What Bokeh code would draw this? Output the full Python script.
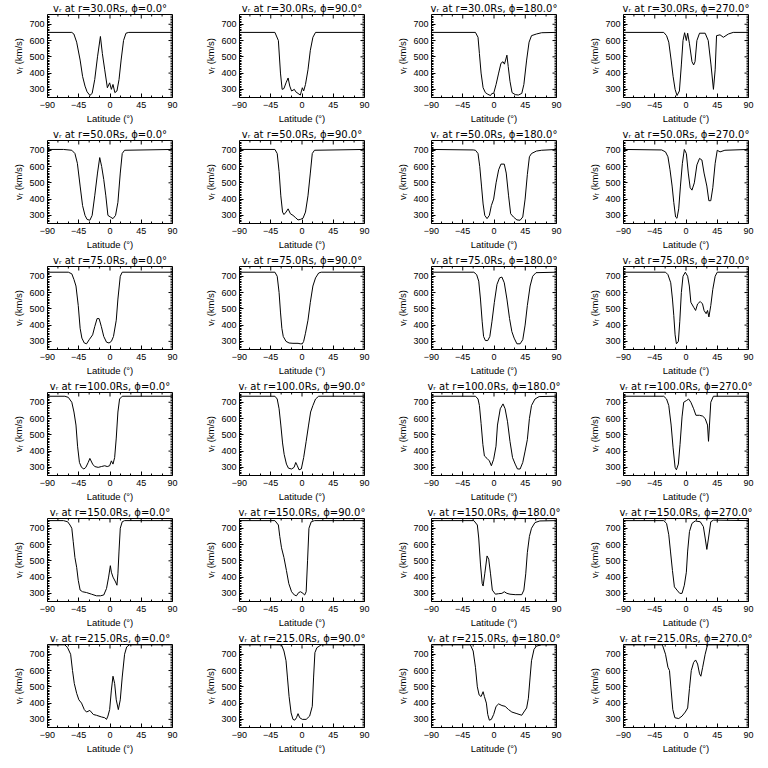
import math
from bokeh.plotting import figure
from bokeh.layouts import gridplot
from bokeh.models import Range1d, FixedTicker
from bokeh.embed import file_html
from bokeh.resources import INLINE

RADII = [30.0, 50.0, 75.0, 100.0, 150.0, 215.0]
PHIS = [0.0, 90.0, 180.0, 270.0]
X_TICKS = [-90, -45, 0, 45, 90]
Y_TICKS = [300, 400, 500, 600, 700]
X_MINOR = [-75, -60, -30, -15, 15, 30, 60, 75]
Y_MINOR = [v for v in range(260, 760, 10) if v % 100 != 0]
X_MIN, X_MAX = -90, 90
Y_MIN, Y_MAX = 250, 760

# ---- r = 30 Rs ----
LAT_R30_P0 = [-90, -55, -52, -48, -43, -39.5, -36, -33, -29, -25.7, -22, -18, -13.8, -11, -7.6, -3.8, -0.5, 2, 4.3, 7, 10, 13, 16, 19.5, 23, 27, 90]
VR_R30_P0 = [650, 650, 640, 590, 480, 380, 320, 285, 263, 275, 360, 500, 625, 520, 420, 310, 340, 300, 330, 280, 290, 360, 480, 600, 645, 650, 650]
LAT_R30_P90 = [-90, -39, -34, -31, -28.6, -26, -23, -20, -17.6, -15, -11, -9, -5.7, -2.4, 0.5, 2.4, 5, 8.6, 12, 15.7, 19.5, 90]
VR_R30_P90 = [650, 650, 600, 400, 300, 305, 340, 370, 320, 290, 300, 285, 275, 265, 310, 290, 330, 420, 540, 620, 650, 650]
LAT_R30_P180 = [-90, -26.7, -23, -21, -18.6, -15.7, -12.4, -9, -5, -3, -0.5, 3, 6.7, 10, 13, 15, 16.7, 18.6, 20.5, 23, 26, 30.5, 35, 40, 43, 47, 50.5, 54, 61, 68.6, 90]
VR_R30_P180 = [650, 650, 620, 520, 400, 310, 280, 270, 262, 275, 275, 330, 400, 460, 470, 455, 480, 510, 440, 350, 280, 268, 265, 275, 330, 480, 590, 630, 640, 648, 650]
LAT_R30_P270 = [-90, -32, -28, -24.8, -21.4, -18.6, -15.7, -12.9, -9.5, -6.7, -4.3, -2, 0.5, 2.4, 5, 8.6, 11, 13, 15.7, 19.5, 27.6, 32, 36, 39.5, 42, 44, 49, 53.8, 61, 68, 90]
VR_R30_P270 = [650, 650, 630, 590, 480, 380, 300, 262, 290, 450, 600, 648, 600, 645, 580, 470, 450, 470, 600, 645, 645, 600, 450, 300, 420, 630, 635, 620, 640, 650, 650]

# ---- r = 50 Rs ----
LAT_R50_P0 = [-90, -67, -55, -50.5, -47, -43, -39.5, -36, -33, -29, -25.7, -22, -18, -14.8, -12, -9, -6, -3, 0.5, 4.3, 8, 11.4, 14.8, 17.6, 21, 90]
VR_R50_P0 = [705, 705, 700, 680, 620, 480, 360, 300, 275, 270, 300, 420, 560, 655, 600, 520, 420, 300, 290, 280, 300, 380, 560, 680, 700, 705]
LAT_R50_P90 = [-90, -39, -35.7, -33, -30.5, -28, -26, -23, -20, -16.7, -13, -9, -5.7, -2.4, 1.4, 5, 8.6, 12, 14.8, 18, 90]
VR_R50_P90 = [705, 705, 680, 570, 420, 320, 305, 320, 340, 310, 300, 285, 272, 275, 282, 320, 420, 560, 680, 700, 705]
LAT_R50_P180 = [-90, -30, -26.7, -23, -20.5, -18, -15.7, -13.3, -10, -6.7, -3.8, -0.5, 3, 6.7, 10, 14.8, 17.6, 21, 24, 28, 33, 37.6, 41.4, 44.8, 48, 51, 54, 61, 68.6, 90]
VR_R50_P180 = [705, 702, 700, 680, 600, 480, 370, 300, 280, 300, 360, 400, 500, 580, 615, 615, 560, 420, 310, 290, 272, 270, 290, 400, 550, 660, 680, 695, 700, 705]
LAT_R50_P270 = [-90, -35, -29.5, -26, -23, -20, -17.6, -15, -13, -10.5, -8, -5.2, -2.4, 0.5, 3.3, 6, 8.6, 12, 15.7, 19.5, 22.9, 26, 30, 32.9, 35.7, 38.6, 42, 45, 49, 56, 90]
VR_R50_P270 = [705, 702, 690, 660, 580, 480, 380, 290, 282, 340, 480, 620, 705, 680, 560, 470, 455, 500, 610, 650, 640, 560, 480, 390, 390, 470, 620, 700, 690, 700, 705]

# ---- r = 75 Rs ----
LAT_R75_P0 = [-90, -60, -55, -51.9, -49, -45.7, -43, -40.5, -37, -33.8, -30, -25, -22, -18.6, -15.7, -12.4, -9, -5, -1.4, 2, 5, 9, 11.4, 14.8, 17.6, 90]
VR_R75_P0 = [725, 725, 715, 680, 640, 520, 380, 320, 290, 285, 310, 340, 390, 440, 440, 390, 330, 295, 290, 300, 330, 430, 560, 700, 725, 725]
LAT_R75_P90 = [-90, -39, -35.7, -33, -31, -29, -27, -23, -18.6, -13, -5.7, -2.4, 0.5, 2.4, 5, 8.6, 12, 15.7, 19.5, 24, 27.6, 90]
VR_R75_P90 = [725, 725, 700, 600, 480, 380, 330, 300, 290, 288, 288, 285, 285, 300, 350, 430, 540, 640, 690, 720, 725, 725]
LAT_R75_P180 = [-90, -29, -25, -22, -19.5, -17, -15, -12.4, -9, -6, -3, 0.5, 4.3, 8, 11.4, 14.8, 18.6, 22.4, 25.7, 29, 33, 37.6, 41.4, 44.8, 48, 52, 55.7, 60.5, 90]
VR_R75_P180 = [725, 725, 710, 670, 560, 420, 330, 305, 305, 330, 420, 540, 650, 690, 695, 660, 560, 440, 360, 320, 285, 285, 310, 400, 520, 640, 700, 722, 725]
LAT_R75_P270 = [-90, -29.5, -26, -22, -19.5, -17.6, -15.7, -13.8, -11, -9, -6.7, -4.3, -1, 2.4, 4.8, 7, 11, 13.8, 16.7, 20.5, 23.8, 26, 29, 31, 33, 35.7, 38.6, 42, 45, 90]
VR_R75_P270 = [725, 725, 710, 660, 560, 460, 340, 285, 300, 420, 600, 700, 725, 700, 640, 540, 510, 490, 530, 545, 530, 490, 470, 490, 450, 520, 620, 700, 725, 725]

# ---- r = 100 Rs ----
LAT_R100_P0 = [-90, -65, -60, -55, -51.9, -49, -46.7, -44, -41, -37.6, -34.8, -31.4, -29, -25, -22, -17, -12.4, -7.6, -4, -0.5, 2, 4.3, 6.7, 9, 11.4, 13.8, 17.6, 90]
VR_R100_P0 = [737, 737, 730, 700, 640, 560, 430, 330, 300, 290, 300, 330, 355, 320, 305, 300, 305, 310, 305, 310, 340, 320, 360, 480, 640, 720, 737, 737]
LAT_R100_P90 = [-90, -39, -35.7, -33, -30.5, -28, -25.7, -22.4, -19.5, -15, -11.4, -9, -6.7, -4.3, -1, 2.4, 6, 9.5, 12.4, 15.7, 19.5, 24, 90]
VR_R100_P90 = [737, 737, 720, 660, 560, 450, 380, 320, 295, 290, 300, 330, 310, 285, 290, 360, 460, 560, 640, 680, 720, 737, 737]
LAT_R100_P180 = [-90, -26.7, -23, -21, -18.6, -16, -13.8, -10, -6.7, -3.8, -0.5, 2.9, 5, 9, 13, 16, 19.5, 23, 26.7, 30.5, 33.8, 37.6, 41.4, 44.8, 48, 51, 54, 59, 65, 90]
VR_R100_P180 = [737, 737, 720, 680, 570, 440, 370, 355, 340, 310, 350, 430, 560, 660, 690, 660, 580, 460, 360, 320, 290, 290, 330, 400, 470, 600, 680, 720, 735, 737]
LAT_R100_P270 = [-90, -32, -28, -24.8, -21.4, -18.6, -15.7, -13.8, -11, -8.6, -5.7, -3.3, 0.5, 3.8, 7, 11, 14.3, 19.5, 24, 27.6, 31, 32.4, 33.8, 35.7, 39.5, 90]
VR_R100_P270 = [737, 737, 720, 680, 560, 420, 300, 285, 320, 440, 610, 700, 710, 720, 700, 660, 620, 620, 615, 600, 560, 460, 560, 700, 737, 737]

# ---- r = 150 Rs ----
LAT_R150_P0 = [-90, -67, -61, -57.6, -55, -53, -50.5, -48, -45.7, -43, -39.5, -33.8, -26.7, -19.5, -13.8, -9, -5, -2, 0.5, 2, 4.3, 8, 10, 11.4, 13, 14.8, 17.6, 21, 90]
VR_R150_P0 = [747, 747, 740, 720, 700, 620, 520, 460, 380, 320, 310, 305, 295, 285, 285, 290, 330, 400, 470, 430, 400, 370, 350, 420, 560, 700, 740, 747, 747]
LAT_R150_P90 = [-90, -39, -34, -32, -29.5, -26, -22.4, -19, -15, -11, -8, -4.8, -2, 1.4, 3.8, 6, 8, 10, 13.3, 18, 90]
VR_R150_P90 = [747, 747, 720, 650, 580, 520, 440, 360, 310, 290, 285, 305, 310, 300, 290, 310, 500, 700, 740, 747, 747]
LAT_R150_P180 = [-90, -29, -24, -22, -19.5, -17, -15.7, -13.3, -10, -7.6, -5, -2.4, 2, 6.7, 11.4, 14.8, 18.6, 23, 30.5, 40, 43, 45.7, 48, 51, 54, 59, 66, 90]
VR_R150_P180 = [747, 747, 720, 640, 480, 360, 345, 420, 530, 510, 420, 320, 295, 298, 300, 310, 300, 295, 292, 292, 320, 420, 550, 650, 700, 735, 745, 747]
LAT_R150_P270 = [-90, -32, -28, -24.8, -22.4, -19.5, -16.7, -13, -9, -5.7, -2.4, 0.5, 2.4, 5, 8.6, 13.3, 20.5, 25, 27.6, 30, 32.4, 35.7, 39.5, 90]
VR_R150_P270 = [747, 747, 730, 660, 560, 440, 340, 320, 300, 300, 350, 430, 560, 680, 730, 745, 740, 710, 640, 570, 640, 740, 750, 747]

# ---- r = 215 Rs ----
LAT_R215_P0 = [-90, -65, -61, -56.7, -54, -51.4, -48, -44.8, -41, -37, -33.8, -29, -24, -19.5, -12.4, -7.6, -5, -3, -0.5, 2, 4.3, 6.7, 9, 12, 14.8, 17.6, 21, 24, 28, 90]
VR_R215_P0 = [758, 758, 740, 700, 600, 520, 460, 420, 400, 360, 345, 355, 330, 325, 315, 310, 300, 320, 360, 480, 565, 520, 420, 360, 420, 560, 700, 745, 758, 758]
LAT_R215_P90 = [-90, -29.5, -26, -23, -21, -18.6, -15.7, -13, -10.5, -8, -5.7, -3.3, 0.5, 6, 11, 14.8, 16.7, 18.6, 21.4, 27.6, 90]
VR_R215_P90 = [758, 758, 720, 660, 560, 440, 340, 300, 295, 310, 335, 310, 300, 300, 320, 380, 560, 710, 740, 758, 758]
LAT_R215_P180 = [-90, -34, -30, -26.7, -24, -21.4, -18.6, -15.7, -13.8, -11, -9, -6.7, -3.8, -0.5, 3, 6.7, 11.4, 16, 21, 25.7, 33, 40, 43, 47, 49.5, 52, 54, 57.6, 61, 68.6, 90]
VR_R215_P180 = [758, 758, 720, 620, 500, 450, 440, 470, 440, 400, 330, 295, 300, 330, 380, 395, 385, 380, 360, 345, 335, 325, 345, 370, 430, 560, 660, 730, 750, 758, 758]
LAT_R215_P270 = [-90, -34, -29.5, -26, -23.8, -21.4, -19, -16, -10.5, -5.7, -1, 2.4, 5, 7.6, 11, 13.8, 16.7, 19.5, 21.4, 24, 27.6, 31, 90]
VR_R215_P270 = [758, 758, 700, 620, 600, 480, 360, 310, 305, 320, 345, 370, 490, 600, 650, 665, 640, 580, 565, 620, 700, 758, 758]

PANELS = [
    [(LAT_R30_P0, VR_R30_P0), (LAT_R30_P90, VR_R30_P90), (LAT_R30_P180, VR_R30_P180), (LAT_R30_P270, VR_R30_P270)],
    [(LAT_R50_P0, VR_R50_P0), (LAT_R50_P90, VR_R50_P90), (LAT_R50_P180, VR_R50_P180), (LAT_R50_P270, VR_R50_P270)],
    [(LAT_R75_P0, VR_R75_P0), (LAT_R75_P90, VR_R75_P90), (LAT_R75_P180, VR_R75_P180), (LAT_R75_P270, VR_R75_P270)],
    [(LAT_R100_P0, VR_R100_P0), (LAT_R100_P90, VR_R100_P90), (LAT_R100_P180, VR_R100_P180), (LAT_R100_P270, VR_R100_P270)],
    [(LAT_R150_P0, VR_R150_P0), (LAT_R150_P90, VR_R150_P90), (LAT_R150_P180, VR_R150_P180), (LAT_R150_P270, VR_R150_P270)],
    [(LAT_R215_P0, VR_R215_P0), (LAT_R215_P90, VR_R215_P90), (LAT_R215_P180, VR_R215_P180), (LAT_R215_P270, VR_R215_P270)],
]

TITLE_FONT = "DejaVu Sans"
LABEL_FONT = "Liberation Sans"


def style_axis(ax, ticks, minor, standoff):
    ax.ticker = FixedTicker(ticks=ticks, minor_ticks=minor)
    ax.axis_line_color = None
    ax.major_tick_in = 4
    ax.major_tick_out = 0
    ax.minor_tick_in = 2
    ax.minor_tick_out = 0
    ax.major_tick_line_color = "black"
    ax.minor_tick_line_color = "black"
    ax.major_label_text_font = LABEL_FONT
    ax.major_label_text_font_size = "9px"
    ax.major_label_text_color = "black"
    ax.major_label_standoff = standoff
    ax.axis_label_text_font = LABEL_FONT
    ax.axis_label_text_font_size = "9.5px"
    ax.axis_label_text_font_style = "normal"
    ax.axis_label_text_color = "black"
    ax.axis_label_standoff = 2


def box_ticks(p):
    # tick marks on the top and right edges of the box (IDL style)
    p.ray(x=X_TICKS, y=[Y_MAX] * len(X_TICKS), length=4, length_units="screen",
          angle=-math.pi / 2, line_color="black", line_width=1)
    p.ray(x=X_MINOR, y=[Y_MAX] * len(X_MINOR), length=2, length_units="screen",
          angle=-math.pi / 2, line_color="black", line_width=1)
    p.ray(x=[X_MAX] * len(Y_TICKS), y=Y_TICKS, length=4, length_units="screen",
          angle=math.pi, line_color="black", line_width=1)
    p.ray(x=[X_MAX] * len(Y_MINOR), y=Y_MINOR, length=2, length_units="screen",
          angle=math.pi, line_color="black", line_width=1)


children = []
for i, r in enumerate(RADII):
    row_figs = []
    for j, phi in enumerate(PHIS):
        lat, vr = PANELS[i][j]
        rb = 7 if j == 3 else 20
        p = figure(frame_width=125, frame_height=83, output_backend="svg", toolbar_location=None,
                   x_range=Range1d(X_MIN, X_MAX), y_range=Range1d(Y_MIN, Y_MAX),
                   min_border_left=47, min_border_right=rb,
                   min_border_top=0, min_border_bottom=0,
                   title=f"vᵣ at r={r:.1f}Rs, ϕ={phi:.1f}°")
        p.title.text_font = TITLE_FONT
        p.title.text_font_size = "10px"
        p.title.text_font_style = "normal"
        p.title.text_color = "black"
        p.title.align = "center"
        p.title.offset = 0
        p.title.standoff = 1
        p.grid.visible = False
        p.outline_line_color = "black"
        p.outline_line_width = 1
        p.background_fill_color = "white"
        p.border_fill_color = "white"
        p.xaxis.axis_label = "Latitude (°)"
        p.yaxis.axis_label = "vᵣ (km/s)"
        style_axis(p.xaxis[0], X_TICKS, X_MINOR, 4)
        style_axis(p.yaxis[0], Y_TICKS, Y_MINOR, 3)
        box_ticks(p)
        p.line(lat, vr, line_color="black", line_width=1)
        row_figs.append(p)
    children.append(row_figs)

grid = gridplot(children, toolbar_location=None)
open("out.html", "w").write(file_html(grid, INLINE))
